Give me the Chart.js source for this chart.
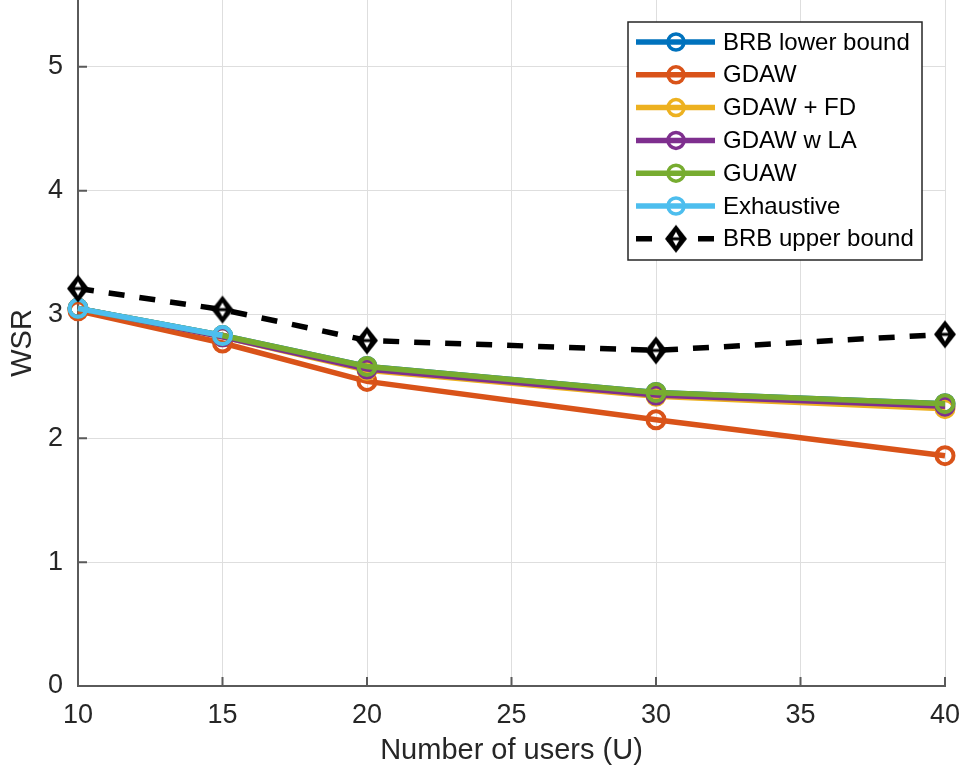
<!DOCTYPE html>
<html>
<head>
<meta charset="utf-8">
<title>WSR vs number of users</title>
<script src="https://cdn.jsdelivr.net/npm/chart.js@4.4.1/dist/chart.umd.min.js"></script>
<style>
  html, body { margin: 0; padding: 0; background: #fff; }
  canvas { display: block; }
</style>
</head>
<body>
<canvas id="wsrChart" width="963" height="774"></canvas>
<script>
// values
const users = [10, 15, 20, 30, 40];
const brbLower = [3.05, 2.83, 2.58, 2.37, 2.28];
const gdaw = [3.03, 2.77, 2.46, 2.15, 1.86];
const gdawFd = [3.05, 2.82, 2.55, 2.34, 2.24];
const gdawLa = [3.05, 2.82, 2.56, 2.35, 2.26];
const guaw = [3.05, 2.83, 2.58, 2.37, 2.28];
const exhaustive = [3.05, 2.83, null, null, null];
const brbUpper = [3.21, 3.04, 2.79, 2.71, 2.84];

const seriesNames = ["BRB lower bound", "GDAW", "GDAW + FD", "GDAW w LA", "GUAW", "Exhaustive", "BRB upper bound"];
const seriesData = [brbLower, gdaw, gdawFd, gdawLa, guaw, exhaustive, brbUpper];
const seriesColors = ["#0072BD", "#D95319", "#EDB120", "#7E2F8E", "#77AC30", "#4DBEEE", "#000000"];

const xTicks = [10, 15, 20, 25, 30, 35, 40];
const yTicks = [0, 1, 2, 3, 4, 5];
const yTop = 5.54;

const FONT = "'Liberation Sans', Arial, Helvetica, sans-serif";
const AXIS_COLOR = "#5a5a5a";
const TEXT_COLOR = "#262626";

// matlab style diamond marker
function makeDiamond() {
  const c = document.createElement("canvas");
  c.width = 24;
  c.height = 30;
  const g = c.getContext("2d");
  g.fillStyle = "#000";
  g.beginPath();
  g.moveTo(12, 1);
  g.lineTo(23, 15);
  g.lineTo(12, 29);
  g.lineTo(1, 15);
  g.closePath();
  g.fill();
  g.fillStyle = "#fff";
  g.beginPath();
  g.moveTo(12, 8);
  g.lineTo(16, 15);
  g.lineTo(12, 22);
  g.lineTo(8, 15);
  g.closePath();
  g.fill();
  g.fillStyle = "#000";
  g.fillRect(8, 13.5, 8, 3);
  return c;
}
const diamond = makeDiamond();

const datasets = seriesNames.map((name, i) => {
  const dashed = i === seriesNames.length - 1;
  return {
    label: name,
    data: users.map((u, j) => ({ x: u, y: seriesData[i][j] })),
    borderColor: seriesColors[i],
    borderWidth: 5.5,
    borderDash: dashed ? [16, 15] : [],
    pointStyle: dashed ? diamond : "circle",
    pointRadius: dashed ? 12 : 8.5,
    pointBorderWidth: 4,
    pointBorderColor: seriesColors[i],
    pointBackgroundColor: "rgba(0,0,0,0)",
    tension: 0,
    clip: false,
    order: seriesNames.length - i,
  };
});

// tick marks pointing into the plot, like matlab
const innerTicks = {
  id: "innerTicks",
  beforeDatasetsDraw(chart) {
    const { ctx, chartArea, scales } = chart;
    ctx.save();
    ctx.strokeStyle = AXIS_COLOR;
    ctx.lineWidth = 2;
    ctx.beginPath();
    xTicks.forEach((v) => {
      const x = scales.x.getPixelForValue(v);
      ctx.moveTo(x, chartArea.bottom);
      ctx.lineTo(x, chartArea.bottom - 9);
    });
    yTicks.forEach((v) => {
      const y = scales.y.getPixelForValue(v);
      ctx.moveTo(chartArea.left, y);
      ctx.lineTo(chartArea.left + 9, y);
    });
    ctx.stroke();
    ctx.restore();
  },
};

// legend box inside the axes (north east)
const boxLegend = {
  id: "boxLegend",
  afterDraw(chart) {
    const { ctx, chartArea } = chart;
    const w = 294, h = 238;
    const left = chartArea.right - 23 - w;
    const top = chartArea.top + 22;
    ctx.save();
    ctx.fillStyle = "#fff";
    ctx.fillRect(left, top, w, h);
    ctx.strokeStyle = TEXT_COLOR;
    ctx.lineWidth = 1.5;
    ctx.strokeRect(left, top, w, h);

    chart.data.datasets.forEach((ds, i) => {
      const y = top + 20 + i * 32.8;
      const x0 = left + 8, x1 = left + 87, cx = left + 48;
      ctx.strokeStyle = ds.borderColor;
      ctx.lineWidth = 5.5;
      ctx.setLineDash(ds.borderDash.length ? ds.borderDash : []);
      ctx.beginPath();
      ctx.moveTo(x0, y);
      ctx.lineTo(x1, y);
      ctx.stroke();
      ctx.setLineDash([]);
      if (ds.pointStyle === "circle") {
        ctx.lineWidth = 3.5;
        ctx.beginPath();
        ctx.arc(cx, y, 8, 0, Math.PI * 2);
        ctx.stroke();
      } else {
        ctx.drawImage(ds.pointStyle, cx - 12, y - 15);
      }
      ctx.fillStyle = "#000";
      ctx.font = "24px " + FONT;
      ctx.textBaseline = "middle";
      ctx.textAlign = "left";
      ctx.fillText(ds.label, left + 95, y + 1);
    });
    ctx.restore();
  },
};

new Chart(document.getElementById("wsrChart").getContext("2d"), {
  type: "line",
  data: { datasets },
  plugins: [innerTicks, boxLegend],
  options: {
    responsive: false,
    animation: false,
    layout: { autoPadding: false, padding: { top: 0, right: 18, bottom: 0, left: 0 } },
    plugins: { legend: { display: false }, tooltip: { enabled: false } },
    scales: {
      x: {
        type: "linear",
        min: xTicks[0],
        max: xTicks[xTicks.length - 1],
        afterBuildTicks: (axis) => { axis.ticks = xTicks.map((v) => ({ value: v })); },
        afterFit: (scale) => { scale.height = 88; scale.paddingLeft = 0; scale.paddingRight = 0; },
        grid: { color: "#dedede", lineWidth: 1, drawTicks: false },
        border: { display: true, color: AXIS_COLOR, width: 2 },
        ticks: { color: TEXT_COLOR, font: { family: FONT, size: 27 }, padding: 13, maxRotation: 0 },
        title: {
          display: true,
          text: "Number of users (U)",
          color: TEXT_COLOR,
          font: { family: FONT, size: 29 },
          padding: { top: 0, bottom: 6 },
        },
      },
      y: {
        min: 0,
        max: yTop,
        afterBuildTicks: (axis) => { axis.ticks = yTicks.map((v) => ({ value: v })); },
        afterFit: (scale) => { scale.width = 78; scale.paddingTop = 0; scale.paddingBottom = 0; },
        grid: { color: "#dedede", lineWidth: 1, drawTicks: false },
        border: { display: true, color: AXIS_COLOR, width: 2 },
        ticks: { color: TEXT_COLOR, font: { family: FONT, size: 27 }, padding: 15 },
        title: {
          display: true,
          text: "WSR",
          color: TEXT_COLOR,
          font: { family: FONT, size: 29 },
          padding: { top: 6, bottom: 0 },
        },
      },
    },
  },
});
</script>
</body>
</html>
